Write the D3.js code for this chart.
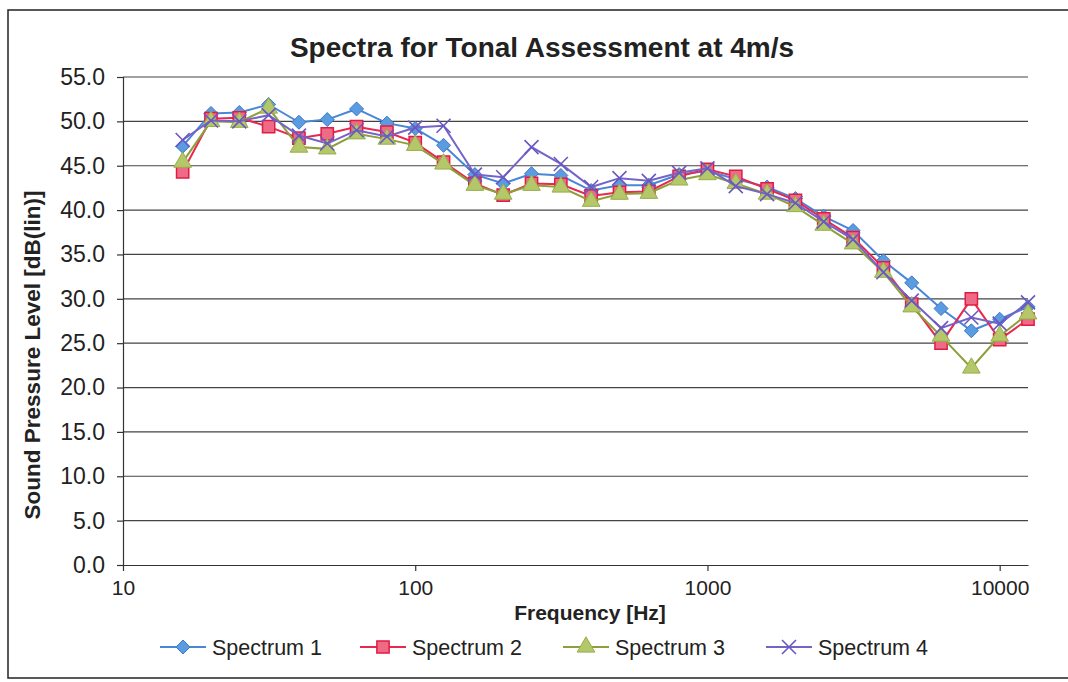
<!DOCTYPE html>
<html>
<head>
<meta charset="utf-8">
<script src="https://cdn.jsdelivr.net/npm/d3@7"></script>
<style>
  body { margin: 0; background: #fff; }
  svg { font-family: "Liberation Sans", Arial, sans-serif; }
</style>
</head>
<body>
<div id="chart"></div>
<script>
// 1/3 octave band centre frequencies
var freqs = [16, 20, 25, 31.5, 40, 50, 63, 80, 100, 125, 160, 200, 250, 315, 400, 500,
	630, 800, 1000, 1250, 1600, 2000, 2500, 3150, 4000, 5000, 6300, 8000, 10000, 12500];

var spectrum1 = [47.2, 50.9, 51.0, 51.9, 49.9, 50.2, 51.4, 49.8, 49.2, 47.3, 44.0, 43.0, 44.1, 43.9, 42.2, 42.8,
	42.8, 44.0, 44.4, 43.5, 42.6, 41.3, 39.3, 37.7, 34.3, 31.8, 28.9, 26.4, 27.7, 29.1];
var spectrum2 = [44.3, 50.3, 50.4, 49.4, 48.1, 48.6, 49.4, 48.8, 47.6, 45.4, 43.0, 41.7, 43.0, 42.9, 41.6, 42.0,
	42.1, 43.8, 44.6, 43.8, 42.4, 41.1, 39.0, 36.9, 33.5, 29.4, 25.0, 30.0, 25.4, 27.7];
var spectrum3 = [45.4, 50.0, 49.9, 51.5, 47.1, 46.9, 48.6, 48.0, 47.3, 45.2, 42.8, 41.8, 42.8, 42.6, 41.0, 41.8,
	41.9, 43.4, 44.0, 43.0, 41.8, 40.4, 38.3, 36.2, 33.0, 29.1, 25.8, 22.2, 25.8, 28.3];
var spectrum4 = [47.9, 50.1, 50.0, 50.7, 48.4, 47.5, 49.0, 48.3, 49.3, 49.5, 44.0, 43.7, 47.1, 45.2, 42.6, 43.6,
	43.3, 44.2, 44.7, 42.7, 41.8, 40.8, 38.7, 36.7, 33.0, 29.8, 26.7, 27.9, 27.2, 29.6];

var seriesNames = ["Spectrum 1", "Spectrum 2", "Spectrum 3", "Spectrum 4"];
var xTicks = [10, 100, 1000, 10000];
var yTicks = [0, 5, 10, 15, 20, 25, 30, 35, 40, 45, 50, 55];

var W = 1068, H = 682;
var margin = {left: 123, right: 40, top: 77, bottom: 118};

var svg = d3.select("#chart").append("svg")
	.attr("width", W)
	.attr("height", H);

// outer chart border
svg.append("rect")
	.attr("x", 8).attr("y", 10)
	.attr("width", 1100).attr("height", 668)
	.attr("fill", "none")
	.attr("stroke", "#222")
	.attr("stroke-width", 1.5);

var x = d3.scaleLog()
	.domain([10, 12500])
	.range([margin.left, W - margin.right]);
var y = d3.scaleLinear()
	.domain([0, 55])
	.range([H - margin.bottom + 1, margin.top]);

// gridlines
svg.append("g")
	.selectAll("line")
	.data(yTicks.slice(1))
	.enter().append("line")
	.attr("x1", margin.left).attr("x2", x(12500))
	.attr("y1", function(d){ return y(d); })
	.attr("y2", function(d){ return y(d); })
	.attr("stroke", "#444")
	.attr("stroke-width", 1.2);

// axes
var yAxis = d3.axisLeft(y)
	.tickValues(yTicks)
	.tickFormat(d3.format(".1f"))
	.tickSize(6)
	.tickPadding(12);
var gY = svg.append("g")
	.attr("transform", "translate(" + margin.left + ",0)")
	.call(yAxis);
gY.selectAll("text").attr("font-size", 23).attr("fill", "#222");
gY.selectAll("line, path").attr("stroke", "#333").attr("stroke-width", 1.2);

var xAxis = d3.axisBottom(x)
	.tickValues(xTicks)
	.tickFormat(d3.format("d"))
	.tickSize(6)
	.tickSizeOuter(0)
	.tickPadding(9);
var gX = svg.append("g")
	.attr("transform", "translate(0," + y(0) + ")")
	.call(xAxis);
gX.selectAll("text").attr("font-size", 21).attr("fill", "#222");
gX.selectAll("line, path").attr("stroke", "#333").attr("stroke-width", 1.2);

// titles
svg.append("text")
	.attr("x", 542).attr("y", 57)
	.attr("text-anchor", "middle")
	.attr("font-size", 28).attr("font-weight", "bold")
	.attr("fill", "#222")
	.text("Spectra for Tonal Assessment at 4m/s");

svg.append("text")
	.attr("transform", "translate(40," + ((margin.top + y(0)) / 2 + 34) + ") rotate(-90)")
	.attr("text-anchor", "middle")
	.attr("font-size", 22.5).attr("font-weight", "bold")
	.attr("fill", "#222")
	.text("Sound Pressure Level [dB(lin)]");

svg.append("text")
	.attr("x", 590).attr("y", 620)
	.attr("text-anchor", "middle")
	.attr("font-size", 21).attr("font-weight", "bold")
	.attr("fill", "#222")
	.text("Frequency [Hz]");

// series
var series = [
	{name: seriesNames[0], values: spectrum1, line: "#4a86d8", fill: "#5b9be0", stroke: "#3d78c8", symbol: "diamond"},
	{name: seriesNames[1], values: spectrum2, line: "#e8284e", fill: "#ef6a86", stroke: "#e01c44", symbol: "square"},
	{name: seriesNames[2], values: spectrum3, line: "#8e9e3a", fill: "#b4c86a", stroke: "#98ae4a", symbol: "triangle"},
	{name: seriesNames[3], values: spectrum4, line: "#7464c8", fill: "none", stroke: "#6a58c0", symbol: "x"}
];

var line = d3.line()
	.x(function(d){ return x(d.f); })
	.y(function(d){ return y(d.v); });

function drawMarker(g, type, s) {
	if (type === "diamond") {
		g.append("path").attr("d", "M0,-7L7,0L0,7L-7,0Z")
			.attr("fill", s.fill).attr("stroke", s.stroke).attr("stroke-width", 1);
	} else if (type === "square") {
		g.append("path").attr("d", d3.symbol().type(d3.symbolSquare).size(150)())
			.attr("fill", s.fill).attr("stroke", s.stroke).attr("stroke-width", 1.5);
	} else if (type === "triangle") {
		g.append("path").attr("d", d3.symbol().type(d3.symbolTriangle).size(135)())
			.attr("fill", s.fill).attr("stroke", s.stroke).attr("stroke-width", 1);
	} else {
		g.append("path").attr("d", "M-7,-7L7,7M-7,7L7,-7")
			.attr("stroke", s.stroke).attr("stroke-width", 1.6).attr("fill", "none");
	}
}

var gSeries = svg.selectAll(".series")
	.data(series)
	.enter().append("g")
	.attr("class", "series");

gSeries.append("path")
	.attr("d", function(s){ return line(s.values.map(function(v, i){ return {f: freqs[i], v: v}; })); })
	.attr("fill", "none")
	.attr("stroke", function(s){ return s.line; })
	.attr("stroke-width", 2);

gSeries.each(function(s){
	var g = d3.select(this);
	s.values.forEach(function(v, i){
		var m = g.append("g").attr("transform", "translate(" + x(freqs[i]) + "," + y(v) + ")");
		drawMarker(m, s.symbol, s);
	});
});

// legend
var legendX = [160, 360, 563, 766];
var legend = svg.selectAll(".legend")
	.data(series)
	.enter().append("g")
	.attr("class", "legend")
	.attr("transform", function(s, i){ return "translate(" + legendX[i] + ",647)"; });

legend.append("line")
	.attr("x1", 0).attr("x2", 46)
	.attr("stroke", function(s){ return s.line; })
	.attr("stroke-width", 2);
legend.each(function(s){
	var m = d3.select(this).append("g").attr("transform", "translate(23,0)");
	drawMarker(m, s.symbol, s);
});
legend.append("text")
	.attr("x", 52).attr("y", 8)
	.attr("font-size", 21.5)
	.attr("fill", "#222")
	.text(function(s){ return s.name; });
</script>
</body>
</html>
